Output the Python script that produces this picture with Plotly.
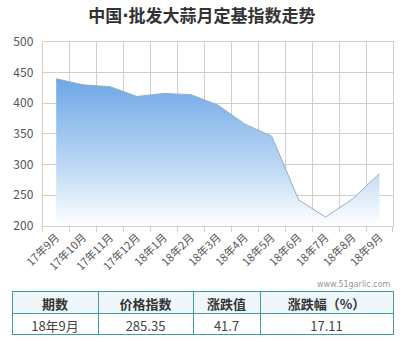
import plotly.graph_objects as go

months = ["17年9月", "17年10月", "17年11月", "17年12月", "18年1月", "18年2月", "18年3月",
          "18年4月", "18年5月", "18年6月", "18年7月", "18年8月", "18年9月"]
index_values = [440, 430, 427, 411, 416, 414, 397, 366, 346, 242, 214, 243.65, 285.35]

table_header = ["期数", "价格指数", "涨跌值", "涨跌幅（%）"]
table_row = ["18年9月", "285.35", "41.7", "17.11"]

title_html = "中国<span style='font-family:DejaVu Sans'>·</span>批发大蒜月定基指数走势"
watermark = "www.51garlic.com"

FONT = "Noto Sans CJK SC"
GRID = "#cfcfcf"

fig = go.Figure()
fig.add_trace(go.Scatter(
    x=months, y=index_values, mode="lines",
    line=dict(color="#93AECB", width=1),
    fill="tozeroy",
    fillgradient=dict(type="vertical", start=200, stop=445,
                      colorscale=[[0, "rgba(255,255,255,1)"], [0.35, "#C4DCF5"], [1, "#6AA5E6"]]),
    hoverinfo="skip", showlegend=False,
))

fig.add_trace(go.Table(
    domain=dict(x=[0, 1], y=[0, 0.152]),
    columnwidth=[86, 95, 67, 133],
    header=dict(values=[[h] for h in table_header],
                fill_color="#EEF6FA",
                line=dict(color="#3E9E9E", width=1),
                align="center", height=22,
                font=dict(family=FONT, size=13, color="#333333", weight="bold")),
    cells=dict(values=[[v] for v in table_row],
               fill_color="white",
               line=dict(color="#3E9E9E", width=1),
               align="center", height=21,
               font=dict(family=FONT, size=13, color="#444444")),
))

fig.update_layout(
    width=412, height=340,
    margin=dict(l=12, r=19, t=42, b=4, autoexpand=False),
    paper_bgcolor="white", plot_bgcolor="white",
    title=dict(text=title_html, x=0.49, xanchor="center", y=1 - 16 / 340, yanchor="middle",
               font=dict(family=FONT, size=17, color="#333333", weight="bold")),
    xaxis=dict(type="category", domain=[0.0806, 1], range=[-0.5, 12.5], automargin=False,
               tickson="boundaries", ticks="outside", ticklen=5, tickcolor=GRID,
               showgrid=True, gridcolor=GRID, gridwidth=1,
               showline=True, linecolor=GRID, mirror=True,
               tickangle=-45, tickfont=dict(family=FONT, size=11, color="#555555"),
               fixedrange=True),
    yaxis=dict(domain=[0.3754, 1], range=[200, 500], dtick=50, automargin=False,
               showgrid=True, gridcolor=GRID, gridwidth=1,
               showline=True, linecolor=GRID, mirror=True, zeroline=False,
               ticks="", ticklabelstandoff=6,
               tickfont=dict(family=FONT, size=12, color="#555555"),
               fixedrange=True),
    annotations=[dict(text=watermark, xref="paper", yref="paper", x=1, y=(340 - 4 - 284) / 294,
                      xanchor="right", yanchor="middle", showarrow=False,
                      font=dict(family="DejaVu Sans", size=8, color="#999999"))],
)

fig.write_html("out.html")
